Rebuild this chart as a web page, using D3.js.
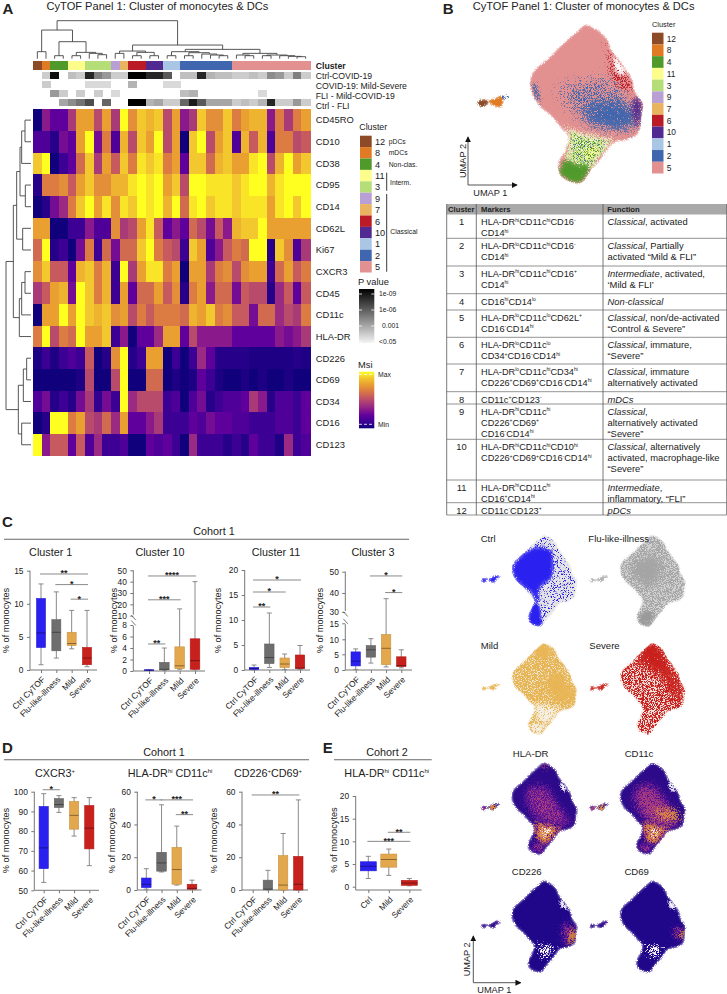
<!DOCTYPE html>
<html>
<head>
<meta charset="utf-8">
<script src="https://cdnjs.cloudflare.com/ajax/libs/d3/7.8.5/d3.min.js"></script>
<style>
body { margin: 0; background: #fff; }
svg { display: block; }
text { font-family: "Liberation Sans", Arial, sans-serif; fill: #222; }
</style>
</head>
<body>
<div id="chart"></div>
<script>
//------------------------ Heatmap data (A)
const markers = ["CD45RO","CD10","CD38","CD95","CD14","CD62L","Ki67","CXCR3","CD45","CD11c","HLA-DR","CD226","CD69","CD34","CD16","CD123"]
const msi = [
  [0,3,2,2,4,7,7,4.5,7,4,9,6.5,8,7.5,8,4.5,7,3,4,8,6.5,6.5,8,6,7,7.5,7.5,3,6,4,6,7],
  [1.5,1.5,.5,2.5,2,7,9,2.5,6,1.5,7.5,4.5,8,7,9,4.5,7,0,8,9,4.5,7,8,1.5,7.5,5,7.5,1.5,6,6,4.5,5],
  [8,9,0,1,2,5.5,8,4,7,5,8,6,8.5,8,8.5,6,7,2,8,8,5.5,7.5,8,7,7,8.5,9,4.5,7.5,9,7,8],
  [.5,6,6,6.5,5,7,8,6.5,6.5,7.5,7.5,8.5,9,8.5,9,7,8,4.5,9,9,8.5,8.5,8.5,8,8.5,9,9,7.5,8.5,9,9,9],
  [0,.5,2.5,3.5,6,8,9,7,8.5,6.5,8.5,8,9,8.5,9,7.5,9,5.5,8.5,9,8,8.5,8.5,8,8.5,8.5,8.5,7,8.5,9,8,9],
  [7,7,0,0,1,1,3,1.5,1.5,6.5,4,4.5,7,8.5,5,2,3,2,5.5,4.5,2.5,5,3,7.5,8,8,9,7,7,7,7,7],
  [5.5,9,.5,1,0,2.5,6,1,5.5,2.5,5.5,5.5,8,9,6,5,4.5,1,8,7,1.5,3,5,6,5.5,9,9,.5,8,6.5,1.5,4],
  [6.5,8,5,5,2,7.5,8,6,7.5,1,9,4,7,8.5,8.5,6,7,0,7,7,4,6,6.5,4.5,6.5,7,7,1,5.5,7,5,6],
  [4,5,7,7.5,2.5,9,8,6,7.5,1,7,2,5.5,5.5,7,5,6.5,.5,6,7,3,5.5,5.5,2.5,5,4.5,4.5,.5,3.5,5,2,5],
  [0,7,7,9,7,9,8,7.5,8,6.5,7,4.5,6,5,6,6,6,5.5,7.5,7,8,6,6.5,5,5,2.5,5.5,5.5,3.5,4.5,4,6],
  [6,9,4.5,6,5.5,9,7,7,8,1,3,0,2,2,3.5,7,7,2,4.5,3,3,3,3,2,2,2,2,2,3,2.5,3,4],
  [.3,1,.3,1,1.5,1,5,0,.5,6.5,9,.5,1,7,7,0,1,0,1,3.5,2,.5,.5,.5,.5,.3,.3,.3,.3,.3,.5,.3],
  [0,0,0,0,0,.3,4.5,0,0,4.5,9,0,0,5.5,5.5,0,.3,0,.3,2,1,.3,0,0,.3,0,.3,0,0,.3,0,0],
  [1.5,2.5,.5,1,.5,2.5,4,.8,2.5,1,9,3.5,4.5,4.5,4.5,1,1.5,0,1.5,2.5,.5,1,1.5,1.5,2,4,3,.5,1.5,1.5,1,2],
  [0,.5,9,9,6,7,4.5,4,5.5,3.5,7,2,2,3,4,1,1,1,2,1.5,2.5,2,2,1.5,1.5,1,1,1,1.5,1.5,1,2],
  [9,3,5,5,2,5,1.5,3.5,1,1,1.5,0,0,2,1.5,2,1,0,3.5,1,1,1,.5,1,.5,2,1,1,.3,3.5,1,1.5]
]
const clusterIds = [12,8,4,11,3,9,7,6,10,1,2,5]
const clusterSizes = [1,1,2,2,3,1,1,2,2,2,6,9]
const clusterColors = ["#8c4b26","#e17b23","#4f9a2b","#fdfd8c","#b6de78","#b8a0d4","#e9b35f","#bb1b27","#502a90","#a9c7e4","#3f66ae","#e39090"]
const legendGroups = ["pDCs","mDCs","Non-clas."]

const annoNames = ["Ctrl-COVID-19","COVID-19: Mild-Severe","FLI - Mild-COVID-19","Ctrl - FLI"]
const annoCtrlCovid = [0,.2,.95,0,.25,.2,.85,.5,.4,.2,.2,1,1,.85,.85,.65,0,.25,.25,.85,.3,.25,.25,.2,.2,.25,.2,.45,.4,.2,.5,.2]
const annoMildSevere = [0,.2,0,0,0,0,.15,.15,.15,0,0,.3,0,0,0,.15,.15,0,0,0,0,0,0,0,0,0,0,0,0,0,0,0]
const annoFliMild = [0,0,.4,.2,0,.2,0,.2,0,.15,0,0,0,0,0,0,0,.25,.3,0,0,0,0,0,0,0,.15,0,0,0,0,0]
const annoCtrlFli = [0,0,0,.35,.45,.55,.7,0,.6,0,0,1,1,.3,.35,.2,.2,.6,.9,.65,.35,.35,.35,.2,.25,.2,.3,.85,.2,.2,.4,.2]

// dendrograms: [merge height, left, right], leaves are column / row indices
const colTree = [114,
  [86,[21,0,1],[51,[9,2,3],[19,[9,4,5],[16,6,[12,7,8]]]]],
  [41,[23,[16,9,10],[19,[9,11,12],[9,13,14]]],
      [28,[21,[9,15,16],[18,[9,17,18],[14,19,[11,20,[9,21,22]]]]],
          [16,[11,23,[9,24,25]],[11,[9,26,27],[9,28,[7,29,[6,30,31]]]]]]]]
const rowTree = [75,
  [53,[43,[33,[28,[18,0,1],2],[17,3,4]],[25,5,6]],[35,[28,[18,7,8],9],10]],
  [38,[23,[13,11,12],13],[28,14,15]]]

//------------------------ Table data (B)
const tableHead = ["Cluster","Markers","Function"]
const tableMarkers = [
  ["HLA-DR^hi^CD11c^hi^CD16^-^","CD14^hi^"],
  ["HLA-DR^lo^CD11c^hi^CD16^-^","CD14^hi^"],
  ["HLA-DR^hi^CD11c^hi^CD16^+^","CD14^hi^"],
  ["CD16^hi^CD14^lo^"],
  ["HLA-DR^lo^CD11c^lo^CD62L^+^","CD16^-^CD14^hi^"],
  ["HLA-DR^lo^CD11c^lo^","CD34^+^CD16^-^CD14^hi^"],
  ["HLA-DR^lo^CD11c^hi^CD34^hi^","CD226^+^CD69^+^CD16^-^CD14^hi^"],
  ["CD11c^+^CD123^-^"],
  ["HLA-DR^hi^CD11c^hi^","CD226^+^CD69^+^","CD16^-^CD14^hi^"],
  ["HLA-DR^hi^CD11c^hi^CD10^hi^","CD226^+^CD69^+^CD16^-^CD14^hi^"],
  ["HLA-DR^hi^CD11c^hi^","CD16^+^CD14^hi^"],
  ["CD11c^-^CD123^+^"]
]
const tableFunction = [
  ["*Classical*, activated"],
  ["*Classical*, Partially","activated \u201cMild & FLI\u201d"],
  ["*Intermediate*, activated,","\u2018Mild & FLI\u2019"],
  ["*Non-classical*"],
  ["*Classical*, non/de-activated","\u201cControl & Severe\u201d"],
  ["*Classical*, immature,","\u201cSevere\u201d"],
  ["*Classical*, immature","alternatively activated"],
  ["*mDCs*"],
  ["*Classical*,","alternatively activated","\u201cSevere\u201d"],
  ["*Classical*, alternatively","activated, macrophage-like","\u201cSevere\u201d"],
  ["*Intermediate*,","inflammatory, \u201cFLI\u201d"],
  ["*pDCs*"]
]
const tableRowEnds = [238.3,266,293.7,310,337.3,364,391.7,404,439.3,480,502.7,515]

//------------------------ Box plot data: [min, q1, median, q3, max]
const groupsC = ["Ctrl CyTOF","Flu-like-illness","Mild","Severe"]
const groupsE = ["Ctrl","Mild","Severe"]
const cluster1Box = [[.8,3.4,5.6,10.8,13],[1.8,2.9,5.7,7.6,11.8],[3.2,3.7,4,5.7,9],[.5,.8,1.8,3.4,9]]
const cluster10Box = [[.1,.15,.15,.2,.2],[.1,.2,.3,1.5,4],[.3,.4,.9,4.2,16],[.2,.3,1.8,5.6,40]]
const cluster11Box = [[0,.1,.3,.5,1],[.5,1.3,2.5,5.2,11.4],[.1,.5,1.2,2.4,3.2],[.1,.3,.4,3,4.9]]
const cluster3Box = [[.2,1.3,2.8,5.8,6.8],[2.2,4.1,6.5,7.9,10.2],[1,1.7,7,11.5,37],[.7,1.1,1.4,4.2,6.5]]
const cxcr3Box = [[54,61,71.5,92.5,99],[89.5,92,93.5,96.5,98],[77.5,81,88,95,97],[62.5,71,81.5,93,97]]
const hlaBox = [[.5,1.5,3.5,7.3,13],[11,11.5,16.5,23,52],[3,3.5,12.5,26,39],[.5,.5,1,3.5,6]]
const cd226Box = [null,[0,.3,.5,6,12],[0,0,3,21,34.5],[0,0,3.5,20.5,55]]
const hlaCohort2Box = [[1.8,3.5,4.5,5.5,6.7],[2.5,4.3,6,7.2,8.3],[.2,.3,.8,1.4,1.8]]
// significance bars: [from group, to group, value, stars]
const cluster1Sig = [[0,3,14.5,"**"],[1,3,12.9,"*"],[2,3,10.7,"*"]]
const cluster10Sig = [[0,3,45,"****"],[0,2,24,"***"],[0,1,4.7,"**"]]
const cluster11Sig = [[0,3,18,"*"],[0,2,15.6,"*"],[0,1,12.6,"**"]]
const cluster3Sig = [[1,3,48,"*"],[2,3,40.2,"*"]]
const cxcr3Sig = [[0,1,101,"*"]]
const hlaSig = [[0,1,55,"*"],[1,3,55,"***"],[2,3,46,"**"]]
const cd226Sig = [[0,3,58,"**"]]
const hlaCohort2Sig = [[0,2,10,"***"],[1,2,12,"**"]]
const boxColors = ["#2a20f0","#6e6e6e","#e3a84d","#c8201c"]

//------------------------ UMAP shapes, traced in UMAP units off the picture
const umapBody = [[345,75],[375,85],[410,115],[425,150],[455,190],[485,235],[495,275],[518,310],[515,345],[505,400],[470,420],[430,430],[395,475],[360,515],[335,548],[300,545],[270,525],[265,490],[285,450],[295,410],[270,380],[240,345],[210,320],[185,280],[180,245],[190,215],[240,170],[285,125],[320,95]]
const umapIsland = [[22,305],[35,298],[55,302],[75,295],[95,283],[125,290],[100,305],[95,320],[70,318],[55,308],[40,322],[28,320]]
const islandLeft = [[22,305],[35,298],[55,302],[55,310],[40,322],[28,320]]
const islandMid = [[55,302],[75,295],[95,285],[100,305],[95,320],[70,318]]
const islandTip = [[88,290],[100,282],[125,290],[100,300]]
const holePatch = [[430,165],[455,190],[472,228],[440,222],[428,195]]
const blueWide = [[225,240],[330,220],[420,200],[490,270],[510,400],[400,410],[300,370]]
const blueBand = [[340,310],[420,290],[500,305],[512,345],[505,395],[430,400],[350,380],[325,345]]
const blueLeft = [[182,250],[198,245],[218,322],[195,295]]
const paleLower = [[275,370],[340,395],[430,410],[472,420],[430,430],[395,475],[360,515],[280,480],[292,410],[270,380],[240,345]]
const yellowCore = [[335,445],[395,435],[380,470],[345,490]]
const greenFoot = [[268,510],[285,475],[320,490],[362,495],[335,548],[300,545],[270,525]]
const purpleEdge = [[495,285],[518,310],[515,345],[505,392],[490,360],[484,315]]
const redEdge = [[380,100],[410,115],[425,150],[455,190],[490,240],[495,285],[440,270],[410,225],[400,150]]
const ctrlDense = [[180,245],[240,168],[320,135],[385,150],[398,220],[388,300],[330,350],[318,430],[300,430],[285,380],[240,345],[200,310]]
const ctrlFoot = [[292,428],[318,428],[335,500],[335,545],[300,546],[268,525],[268,495]]
const fluDense = [[215,250],[280,190],[380,180],[405,250],[395,315],[330,352],[255,315]]
const fluFoot = [[275,492],[340,458],[358,498],[332,548],[292,546]]
const mildTop = [[300,100],[345,75],[385,105],[392,150],[330,165],[290,135]]
const mildBand = [[340,262],[430,220],[495,290],[518,320],[505,400],[430,390],[350,340]]
const severeTop = [[240,170],[345,75],[410,115],[455,195],[495,280],[518,320],[505,398],[430,360],[400,270],[300,210]]
const coreMid = [[240,210],[340,170],[440,280],[500,400],[420,425],[330,400],[260,330]]
const darkRidge = [[370,130],[420,170],[480,240],[505,320],[490,350],[430,320],[395,240]]
const lowerBelly = [[280,370],[350,385],[470,415],[425,432],[395,475],[355,510],[300,470],[295,410]]
const lowerPale = [[330,400],[410,415],[380,460],[345,480],[320,450]]
const hlaTip = [[325,95],[345,75],[375,85],[380,110],[345,115]]
const cd226Right = [[420,300],[495,280],[518,320],[512,380],[470,418],[425,420],[440,360]]
const cd226Edge = [[475,330],[518,320],[510,395],[470,412]]
const cd69Right = [[440,320],[495,285],[518,320],[510,390],[460,395]]
const cd69Edge = [[490,335],[518,320],[508,385],[485,385]]

//*************************Wrapper
const svg = d3.select("#chart").append("svg").attr("width",727).attr("height",994)
const defs = svg.append("defs")

// scatter look: blurred shape + noise, thresholded, then flooded with one colour
const grainIds = new Map()
const grainFilter = (colour,blur,bias) => {
  const key = `${colour}|${blur}|${bias}`
  if (grainIds.has(key)) return grainIds.get(key)
  const id = `grain${grainIds.size}`
  grainIds.set(key,id)
  const f = defs.append("filter").attr("id",id)
    .attr("x","-60%").attr("y","-60%").attr("width","220%").attr("height","220%")
    .attr("color-interpolation-filters","sRGB")
  f.append("feGaussianBlur").attr("in","SourceAlpha").attr("stdDeviation",blur).attr("result","b")
  f.append("feTurbulence").attr("type","fractalNoise").attr("baseFrequency",1.3).attr("numOctaves",1).attr("seed",grainIds.size*7+1).attr("result","n")
  f.append("feColorMatrix").attr("in","n").attr("type","matrix")
    .attr("values","0 0 0 0 0 0 0 0 0 0 0 0 0 0 0 0 0 0 2.4 -0.7").attr("result","m")
  f.append("feComposite").attr("in","b").attr("in2","m").attr("operator","arithmetic")
    .attr("k1",0).attr("k2",1).attr("k3",1).attr("k4",bias).attr("result","a")
  f.append("feComponentTransfer").attr("in","a").attr("result","c")
    .append("feFuncA").attr("type","linear").attr("slope",5)
  f.append("feComposite").attr("in","c").attr("in2","b").attr("operator","in").attr("result","d")
  f.append("feFlood").attr("flood-color",colour).attr("result","fl")
  f.append("feComposite").attr("in","fl").attr("in2","d").attr("operator","in")
  return id
}

const addText = (sel,x,y,s,size,opts={}) => sel.append("text").attr("x",x).attr("y",y).text(s)
  .attr("font-size",size).attr("text-anchor",opts.anchor||"start")
  .attr("font-weight",opts.weight||"normal")

// superscripts written as a^b^c
const richText = (sel,x,y,s,size) => {
  const t = sel.append("text").attr("x",x).attr("y",y).attr("font-size",size)
  const parts = s.split("^")
  let lift = 0
  parts.forEach((p,i) => {
    if (!p) return
    const sup = i % 2 == 1
    const dy = sup ? -size*.36 - lift : -lift
    t.append("tspan").attr("dy",dy).attr("font-size",sup ? size*.55 : size).text(p)
    lift = sup ? -size*.36 : 0
  })
  return t
}

//*************************A. Heatmap
const gA = svg.append("g")
addText(gA,2.5,14,"A",15,{weight:"bold"})
addText(gA,46.5,10,"CyTOF Panel 1: Cluster of monocytes & DCs",11.1)

const xHeat = d3.scaleBand().domain(d3.range(32)).range([33,310])
const yHeat = d3.scaleBand().domain(d3.range(16)).range([109.3,455.6])
const msiStops = ["#10007c","#3c0094","#5f009c","#8a1a8c","#a93a78","#c65a5e","#dc7c42","#e9a030","#f2c82e","#ffff20"]
const msiColor = d3.scaleLinear().domain(d3.range(10)).range(msiStops)

gA.append("g").attr("shape-rendering","crispEdges").selectAll("g")
  .data(msi).join("g")
  .selectAll("rect")
  .data((d,r) => d.map((v,c) => ({v,c,r})))
  .join("rect")
  .attr("x",d => xHeat(d.c))
  .attr("y",d => yHeat(d.r))
  .attr("width",xHeat.bandwidth()+.5)
  .attr("height",yHeat.bandwidth()+.5)
  .attr("fill",d => msiColor(d.v))

gA.selectAll(".marker").data(markers).join("text").classed("marker",true)
  .attr("x",315.7).attr("y",(d,i) => yHeat(i)+yHeat.bandwidth()/2+3.3)
  .attr("font-size",9.4).text(d => d)

// cluster colour bar
const colClusters = clusterSizes.flatMap((n,i) => d3.range(n).map(() => i))
gA.append("g").attr("shape-rendering","crispEdges").selectAll("rect").data(colClusters).join("rect")
  .attr("x",(d,i) => xHeat(i)).attr("y",60.7)
  .attr("width",xHeat.bandwidth()+.5).attr("height",9.3)
  .attr("fill",d => clusterColors[d])
addText(gA,315.7,69,"Cluster",8.7,{weight:"bold"})

// p value strips
const yAnno = d3.scaleBand().domain(d3.range(4)).range([72.4,108.4])
const pGrey = d3.scaleLinear().domain([0,1]).range(["#ffffff","#000000"])
;[annoCtrlCovid,annoMildSevere,annoFliMild,annoCtrlFli].forEach((vals,r) => {
  gA.append("g").attr("shape-rendering","crispEdges").selectAll("rect")
    .data(vals.map((v,c) => ({v,c})).filter(d => d.v > 0)).join("rect")
    .attr("x",d => xHeat(d.c)).attr("y",yAnno(r))
    .attr("width",xHeat.bandwidth()+.5).attr("height",7)
    .attr("fill",d => pGrey(d.v))
  addText(gA,315.7,79+r*10,annoNames[r],8.7)
})

// dendrograms
const colH = d3.scaleLinear().domain([0,114]).range([58.7,20.7])
const rowH = d3.scaleLinear().domain([0,75]).range([31,6])
const treePaths = (node,pos,hpos,out,horizontal) => {
  if (!Array.isArray(node)) return {at:pos(node),h:hpos(0)}
  const a = treePaths(node[1],pos,hpos,out,horizontal)
  const b = treePaths(node[2],pos,hpos,out,horizontal)
  const h = hpos(node[0])
  out.push(horizontal
    ? `M${a.at},${a.h}V${h}H${b.at}V${b.h}`
    : `M${a.h},${a.at}H${h}V${b.at}H${b.h}`)
  return {at:(a.at+b.at)/2,h}
}
const colPaths = []
treePaths(colTree,i => xHeat(i)+xHeat.bandwidth()/2,colH,colPaths,true)
const rowPaths = []
treePaths(rowTree,i => yHeat(i)+yHeat.bandwidth()/2,rowH,rowPaths,false)
gA.selectAll(".dendro").data(colPaths.concat(rowPaths)).join("path").classed("dendro",true)
  .attr("d",d => d).attr("fill","none").attr("stroke","#444").attr("stroke-width",.9)

// cluster legend
addText(gA,359.3,129.5,"Cluster",8.8)
const yLegend = d3.scaleBand().domain(clusterIds).range([135.7,272.5])
gA.append("g").selectAll("rect").data(clusterIds).join("rect")
  .attr("x",360).attr("y",d => yLegend(d)).attr("width",11.7).attr("height",yLegend.bandwidth())
  .attr("fill",(d,i) => clusterColors[i])
gA.selectAll(".legnum").data(clusterIds).join("text").classed("legnum",true)
  .attr("x",375).attr("y",d => yLegend(d)+yLegend.bandwidth()/2+3.3).attr("font-size",9.2).text(d => d)
legendGroups.forEach((s,i) => addText(gA,388.7,yLegend(clusterIds[i])+8,s,6.8))
addText(gA,390,184.5,"Interm.",6.8)
addText(gA,390.3,234,"Classical",6.8)
gA.append("line").attr("x1",386.7).attr("x2",386.7).attr("y1",172.7).attr("y2",190.7).attr("stroke","#222").attr("stroke-width",.9)
gA.append("line").attr("x1",386.7).attr("x2",386.7).attr("y1",194).attr("y2",271.7).attr("stroke","#222").attr("stroke-width",.9)

// p value legend
addText(gA,358,284.5,"P value",9.3)
const pGrad = defs.append("linearGradient").attr("id","pGrad").attr("x1",0).attr("x2",0).attr("y1",0).attr("y2",1)
pGrad.append("stop").attr("offset",0).attr("stop-color","#000")
pGrad.append("stop").attr("offset",1).attr("stop-color","#f4f4f4")
gA.append("rect").attr("x",359).attr("y",289).attr("width",15.3).attr("height",54).attr("fill","url(#pGrad)")
const pLegend = [["1e-09",294,379],["1e-06",310,379],["0.001",326,382],["<0.05",342,379]]
pLegend.forEach(([s,y,x]) => {
  addText(gA,x,y+2.4,s,6.8)
  gA.append("line").attr("x1",359).attr("x2",362).attr("y1",y).attr("y2",y).attr("stroke","#fff").attr("stroke-width",.8)
  gA.append("line").attr("x1",371.3).attr("x2",374.3).attr("y1",y).attr("y2",y).attr("stroke","#fff").attr("stroke-width",.8)
})

// msi legend
addText(gA,358,367.5,"Msi",9.3)
const mGrad = defs.append("linearGradient").attr("id","mGrad").attr("x1",0).attr("x2",0).attr("y1",1).attr("y2",0)
msiStops.forEach((c,i) => mGrad.append("stop").attr("offset",i/9).attr("stop-color",c))
gA.append("rect").attr("x",359).attr("y",371.7).attr("width",15.3).attr("height",56.6).attr("fill","url(#mGrad)")
;[[374.5,"Max"],[424.3,"Min"]].forEach(([y,s]) => {
  addText(gA,378,y+2.5,s,6.8)
  gA.append("line").attr("x1",359).attr("x2",374.3).attr("y1",y).attr("y2",y)
    .attr("stroke","#fff").attr("stroke-width",.8).attr("stroke-dasharray","3 2")
})

//*************************UMAPs
let umapCount = 0
const islandShapes = [umapIsland,islandLeft,islandMid,islandTip]
const drawUmap = (left,top,k,layers) => {
  const x = d3.scaleLinear().domain([180,280]).range([left,left+100*k])
  const y = d3.scaleLinear().domain([75,175]).range([top,top+100*k])
  const line = d3.line().x(d => x(d[0])).y(d => y(d[1])).curve(d3.curveCatmullRomClosed.alpha(.5))
  const clipId = `umapClip${umapCount++}`
  defs.append("clipPath").attr("id",clipId).append("path").attr("d",line(umapBody))
  const g = svg.append("g")
  layers.forEach(([shape,colour,blur,bias]) => {
    // everything but the outline and the island stays inside the outline
    const holder = (shape === umapBody || islandShapes.includes(shape)) ? g : g.append("g").attr("clip-path",`url(#${clipId})`)
    holder.append("path").attr("d",line(shape)).attr("fill",colour)
      .attr("filter",`url(#${grainFilter(colour,blur,bias)})`)
  })
}
const kMain = 1/3
const kSmall = .58/3
const pink = clusterColors[11]
drawUmap(530,25,kMain,[
  [umapBody,pink,1.2,-.8],
  [redEdge,clusterColors[7],5,-1.35],
  [holePatch,"#ffffff",2.5,-.95],
  [blueWide,clusterColors[10],12,-1.42],
  [blueBand,clusterColors[10],8,-1.05],
  [blueLeft,clusterColors[10],2.5,-1.1],
  [paleLower,"#f4f8e0",4,-1.05],
  [paleLower,"#cfe58c",4,-1.25],
  [paleLower,clusterColors[10],6,-1.65],
  [yellowCore,clusterColors[3],4,-1.1],
  [greenFoot,clusterColors[2],2.5,-.85],
  [paleLower,clusterColors[2],4,-1.6],
  [purpleEdge,clusterColors[8],3,-.85],
  [umapIsland,"#c9d2dd",1.5,-1.3],
  [islandMid,clusterColors[1],1,-.85],
  [islandLeft,clusterColors[0],1,-.85],
  [islandTip,clusterColors[10],1,-1.35]
])
const blue = boxColors[0], red = boxColors[3]
const amber = "#e8b555"
const xs = [511.7,620]
const ys = [535,643,762.7,880.7]
drawUmap(xs[0],ys[0],kSmall,[
  [umapBody,"#e4e4e4",.8,-.8],
  [umapBody,blue,1,-1.62],
  [ctrlDense,blue,2,-.8],[ctrlFoot,blue,1.5,-.8],
  [umapIsland,blue,.8,-.8]
])
drawUmap(xs[1],ys[0],kSmall,[
  [umapBody,"#d2d2d2",.8,-.8],
  [umapBody,"#a6a6a6",1,-1.35],
  [fluDense,"#a4a4a4",6,-.9],[fluFoot,"#9a9a9a",2,-.9],
  [umapIsland,"#b0b0b0",.8,-.9]
])
drawUmap(xs[0],ys[1],kSmall,[
  [umapBody,"#efe5cc",.8,-.8],
  [umapBody,amber,1,-1.22],
  [lowerBelly,"#f4efe2",3,-1.1],[greenFoot,"#f4efe2",2,-1.15],
  [mildTop,amber,3,-.85],[mildBand,amber,6,-.95],
  [umapIsland,amber,.8,-.9]
])
drawUmap(xs[1],ys[1],kSmall,[
  [umapBody,"#f4e0dc",.8,-.8],
  [umapBody,red,1,-1.35],
  [severeTop,red,6,-.95],[mildTop,red,3,-.8],
  [umapIsland,red,.8,-.85]
])
const ind = "#2c0a8a", vio = "#65189a", ros = "#a83c7c", ora = "#dd8a3e"
const islandHeat = [[umapIsland,ind,.8,-.85],[islandLeft,ros,.8,-1.05],[islandMid,ora,1,-1.05]]
const islandDark = [[umapIsland,ind,.8,-.85],[islandTip,vio,.8,-1.2]]
drawUmap(xs[0],ys[2],kSmall,[
  [umapBody,ind,.8,-.8],
  [coreMid,vio,6,-.95],[coreMid,ros,7,-1.4],
  [darkRidge,ind,4,-1.05],
  [hlaTip,ros,3,-1],
  [lowerBelly,ros,3.5,-.95],[lowerBelly,ora,3.5,-1.2],[holePatch,"#ffffff",1.5,-1],
  [lowerPale,"#fbf0e4",2.5,-1.42],
  [greenFoot,vio,3,-1],[greenFoot,ros,3,-1.4]
].concat(islandHeat))
drawUmap(xs[1],ys[2],kSmall,[
  [umapBody,ind,.8,-.8],
  [coreMid,vio,6,-.95],[coreMid,ros,7,-1.2],[blueBand,ora,6,-1.2],[purpleEdge,ind,3,-1],
  [lowerBelly,ros,3.5,-.95],[lowerBelly,ora,3.5,-1.2],[holePatch,"#ffffff",1.5,-1],
  [lowerPale,"#fbf0e4",2.5,-1.42],
  [greenFoot,vio,3,-1],[greenFoot,ros,3,-1.4]
].concat(islandHeat))
drawUmap(xs[0],ys[3],kSmall,[
  [umapBody,"#20078a",.8,-.8],
  [lowerPale,"#ffffff",2.5,-1.38],[lowerBelly,"#ffffff",3,-1.55],[holePatch,"#ffffff",1.5,-1],
  [cd226Right,vio,6,-1],[cd226Right,ros,6,-1.25],[cd226Edge,ora,3,-1]
].concat(islandDark))
drawUmap(xs[1],ys[3],kSmall,[
  [umapBody,"#20078a",.8,-.8],
  [lowerPale,"#ffffff",2.5,-1.38],[lowerBelly,"#ffffff",3,-1.55],[holePatch,"#ffffff",1.5,-1],
  [cd69Right,vio,6,-1.05],[cd69Right,ros,5,-1.3],[cd69Edge,ora,2.5,-1]
].concat(islandDark))

// panel captions
const gB = svg.append("g")
addText(gB,442.7,14,"B",15,{weight:"bold"})
addText(gB,472.7,10,"CyTOF Panel 1: Cluster of monocytes & DCs",11.1)
addText(gB,652,27,"Cluster",7.4)
const yLegendB = d3.scaleBand().domain(clusterIds).range([32.7,173.5])
gB.append("g").selectAll("rect").data(clusterIds).join("rect")
  .attr("x",652).attr("y",d => yLegendB(d)).attr("width",11.5).attr("height",yLegendB.bandwidth())
  .attr("fill",(d,i) => clusterColors[i])
gB.selectAll(".legnum").data(clusterIds).join("text").classed("legnum",true)
  .attr("x",666.7).attr("y",d => yLegendB(d)+yLegendB.bandwidth()/2+3).attr("font-size",8.4).text(d => d)
;[["Ctrl",480.7,541.7,"start"],["Flu-like-illness",588.3,541.7,"start"],["Mild",480.7,649,"start"],["Severe",589.3,649,"start"],
  ["HLA-DR",530.7,756.7,"middle"],["CD11c",639,756.7,"middle"],["CD226",526.7,875,"middle"],["CD69",636.7,875,"middle"]]
  .forEach(([s,x,y,anchor]) => addText(gB,x,y,s,9.6,{anchor}))

// UMAP arrows
defs.append("marker").attr("id","arrow").attr("viewBox","0 0 8 8").attr("refX",7).attr("refY",4)
  .attr("markerWidth",6).attr("markerHeight",6).attr("orient","auto")
  .append("path").attr("d","M0,0L8,4L0,8Z").attr("fill","#111")
const umapArrows = (ox,oy,top,right,lx,ly,rx) => {
  gB.append("path").attr("d",`M${ox},${oy}V${top}`).attr("stroke","#555").attr("fill","none").attr("stroke-width",1).attr("marker-end","url(#arrow)")
  gB.append("path").attr("d",`M${ox},${oy}H${right}`).attr("stroke","#555").attr("fill","none").attr("stroke-width",1).attr("marker-end","url(#arrow)")
  addText(gB,lx,ly,"UMAP 1",9.2)
  gB.append("text").attr("transform",`translate(${rx},${(oy+top)/2}) rotate(-90)`).attr("text-anchor","middle").attr("font-size",9.2).text("UMAP 2")
}
umapArrows(468,185,137,517,473.3,196,465.5)
umapArrows(473.3,982.7,936,520.7,477.3,992.5,469.5)

//*************************B. Table
const gT = svg.append("g")
const tableX = [446.7,476.3,603,726.7]
gT.append("rect").attr("x",tableX[0]).attr("y",204).attr("width",tableX[3]-tableX[0]).attr("height",10.5).attr("fill","#a9a9a9")
;[[448,"Cluster"],[481,"Markers"],[607.3,"Function"]].forEach(([x,s]) => addText(gT,x,212.3,s,7.7,{weight:"bold"}))
const lineStarts = [214.5].concat(tableRowEnds)
gT.selectAll(".rowline").data(tableRowEnds).join("line").classed("rowline",true)
  .attr("x1",tableX[0]).attr("x2",tableX[3]).attr("y1",d => d).attr("y2",d => d)
  .attr("stroke","#777").attr("stroke-width",.8)
tableX.forEach(x => gT.append("line").attr("x1",x).attr("x2",x).attr("y1",204).attr("y2",515).attr("stroke","#555").attr("stroke-width",.8))
tableMarkers.forEach((lines,r) => {
  const top = lineStarts[r]
  addText(gT,461.5,top+10.8,r+1,9.4,{anchor:"middle"})
  lines.forEach((s,i) => richText(gT,481,top+10.8+i*11,s,9.2))
  tableFunction[r].forEach((s,i) => {
    const t = gT.append("text").attr("x",607.5).attr("y",top+10.8+i*11).attr("font-size",9.4)
    s.split("*").forEach((p,j) => {
      if (p) t.append("tspan").attr("font-style",j % 2 ? "italic" : "normal").text(p)
    })
  })
})

//*************************C / D / E. Box plots
const drawBoxPanel = (p) => {
  const g = svg.append("g")
  const y = d3.scaleLinear().domain(p.domain).range(p.range)
  const x = d3.scalePoint().domain(p.groups).range(p.xRange)
  const axisLeft = d3.axisLeft(y).tickValues(p.ticks).tickSize(3).tickFormat(d3.format("d"))
  const ya = g.append("g").attr("transform",`translate(${p.axisX},0)`).call(axisLeft)
  ya.select(".domain").remove()
  ya.selectAll("line").attr("stroke","#777")
  ya.selectAll("text").attr("font-size",8.4).attr("font-family",null).attr("dx",-.5)
  const bottom = p.bottom || y(p.domain[0])
  const top = y(p.domain[p.domain.length-1])
  const axisLines = p.breakAt
    ? [[y(p.breakAt[0])+1,bottom],[y(p.breakAt[1])-1,top]]
    : [[bottom,top]]
  axisLines.forEach(([a,b]) => g.append("line").attr("x1",p.axisX).attr("x2",p.axisX).attr("y1",a).attr("y2",b).attr("stroke","#777"))
  if (p.breakAt) {
    p.breakAt.forEach(v => {
      const off = v === p.breakAt[0] ? -2 : 2
      g.append("line").attr("x1",p.axisX-2).attr("x2",p.axisX+2.5).attr("y1",y(v)+off-2.5).attr("y2",y(v)+off+2.5).attr("stroke","#555").attr("stroke-width",.8)
    })
  }
  const xa = g.append("g").attr("transform",`translate(0,${bottom})`).call(d3.axisBottom(x).tickSize(3))
  xa.select(".domain").remove()
  xa.selectAll("line").attr("stroke","#777")
  xa.selectAll("text").attr("font-size",8.4).attr("font-family",null)
    .attr("text-anchor","end").attr("x",0).attr("y",0).attr("dy","0.35em")
    .attr("transform","translate(2,8) rotate(-45)")
  g.append("line").attr("x1",p.axisX).attr("x2",p.endX).attr("y1",bottom).attr("y2",bottom).attr("stroke","#777")

  const hw = p.boxWidth/2
  p.box.forEach((b,i) => {
    if (!b) return
    const cx = x(p.groups[i])
    const colour = p.colours[i]
    const [lo,q1,med,q3,hi] = b
    g.append("line").attr("x1",cx).attr("x2",cx).attr("y1",y(lo)).attr("y2",y(hi)).attr("stroke","#8a8a8a")
    ;[lo,hi].forEach(v => g.append("line").attr("x1",cx-2.5).attr("x2",cx+2.5).attr("y1",y(v)).attr("y2",y(v)).attr("stroke","#8a8a8a"))
    g.append("rect").attr("x",cx-hw).attr("y",y(q3)).attr("width",p.boxWidth).attr("height",Math.max(y(q1)-y(q3),.5))
      .attr("fill",colour).attr("stroke",d3.color(colour).darker(.4)).attr("stroke-width",.6)
    g.append("line").attr("x1",cx-hw).attr("x2",cx+hw).attr("y1",y(med)).attr("y2",y(med)).attr("stroke",d3.color(colour).darker(1.6)).attr("stroke-width",.9)
  })
  p.sig.forEach(([a,b,v,stars]) => {
    const xa1 = x(p.groups[a])-1, xa2 = x(p.groups[b])+1
    g.append("line").attr("x1",xa1).attr("x2",xa2).attr("y1",y(v)).attr("y2",y(v)).attr("stroke","#8a8a8a")
    g.append("text").attr("x",(xa1+xa2)/2).attr("y",y(v)+2.4).attr("text-anchor","middle").attr("font-size",9).attr("font-weight","bold").text(stars)
  })
  g.append("text").attr("transform",`translate(${p.labelX},${p.labelY}) rotate(-90)`).attr("text-anchor","middle").attr("font-size",9.2).text("% of monocytes")
  return g
}

const c4 = boxColors
drawBoxPanel({groups:groupsC,box:cluster1Box,sig:cluster1Sig,colours:c4,domain:[0,15],range:[670,570.7],ticks:[0,5,10,15],axisX:30,xRange:[41,87],endX:97,boxWidth:9,labelX:8.5,labelY:620.5})
drawBoxPanel({groups:groupsC,box:cluster10Box,sig:cluster10Sig,colours:c4,domain:[0,8,10,50],range:[671,625,615.7,570.3],ticks:[0,2,4,6,8,10,20,30,40,50],breakAt:[8,10],axisX:133.3,xRange:[149,195],endX:205,boxWidth:9.6,labelX:116.7,labelY:620.5})
drawBoxPanel({groups:groupsC,box:cluster11Box,sig:cluster11Sig,colours:c4,domain:[0,20],range:[670,570],ticks:[0,5,10,15,20],axisX:244.7,xRange:[254,300],endX:310,boxWidth:9.4,labelX:220.7,labelY:620.5})
drawBoxPanel({groups:groupsC,box:cluster3Box,sig:cluster3Sig,colours:c4,domain:[0,5,10,15,30,40,50],range:[670,654.3,639.3,623.3,612,593,571.7],ticks:[0,5,10,15,30,40,50],breakAt:[15,30],axisX:345.3,xRange:[355.7,401.3],endX:412,boxWidth:9.4,labelX:322.7,labelY:620.5})
drawBoxPanel({groups:groupsC,box:cxcr3Box,sig:cxcr3Sig,colours:c4,domain:[50,100],range:[890.3,791.7],ticks:[50,60,70,80,90,100],axisX:34.3,xRange:[43.7,89.3],endX:99,boxWidth:9.2,labelX:8.5,labelY:840.5})
drawBoxPanel({groups:groupsC,box:hlaBox,sig:hlaSig,colours:c4,domain:[0,60],range:[890,791.7],ticks:[0,20,40,60],axisX:137.3,xRange:[146.3,192],endX:201.5,boxWidth:9.6,labelX:115,labelY:840.5})
drawBoxPanel({groups:groupsC,box:cd226Box,sig:cd226Sig,colours:c4,domain:[0,60],range:[890,791.7],ticks:[0,20,40,60],axisX:242,xRange:[252.7,298.3],endX:308,boxWidth:9.4,labelX:216.7,labelY:840.5})
drawBoxPanel({groups:groupsE,box:hlaCohort2Box,sig:hlaCohort2Sig,colours:[boxColors[0],boxColors[2],boxColors[3]],domain:[0,20],range:[886.7,796],ticks:[0,5,10,15,20],axisX:355.7,xRange:[368.3,409.3],endX:421.7,boxWidth:16,bottom:890,labelX:336.7,labelY:840})

// headings for the box plot rows
const gH = svg.append("g")
addText(gH,2,527,"C",15,{weight:"bold"})
addText(gH,2,752.7,"D",15,{weight:"bold"})
addText(gH,322.7,752.7,"E",15,{weight:"bold"})
;[[4,409,539.3,214,535,"Cohort 1"],[4,309,759.7,164,756,"Cohort 1"],[334,431.7,759.7,387,756,"Cohort 2"]].forEach(([x1,x2,yl,cx,yt,s]) => {
  gH.append("line").attr("x1",x1).attr("x2",x2).attr("y1",yl).attr("y2",yl).attr("stroke","#666").attr("stroke-width",1.1)
  addText(gH,cx,yt,s,10.8,{anchor:"middle"})
})
;[["Cluster 1",50.7],["Cluster 10",160],["Cluster 11",276],["Cluster 3",373]].forEach(([s,x]) => addText(gH,x,556,s,10.8,{anchor:"middle"}))
;[["CXCR3^+^",55,776.7],["HLA-DR^hi^ CD11c^hi^",170,776.7],["CD226^+^CD69^+^",268,776.7],["HLA-DR^hi^ CD11c^hi^",386.7,776.7]]
  .forEach(([s,x,y]) => richText(gH,x,y,s,10.8).attr("text-anchor","middle"))
</script>
</body>
</html>
